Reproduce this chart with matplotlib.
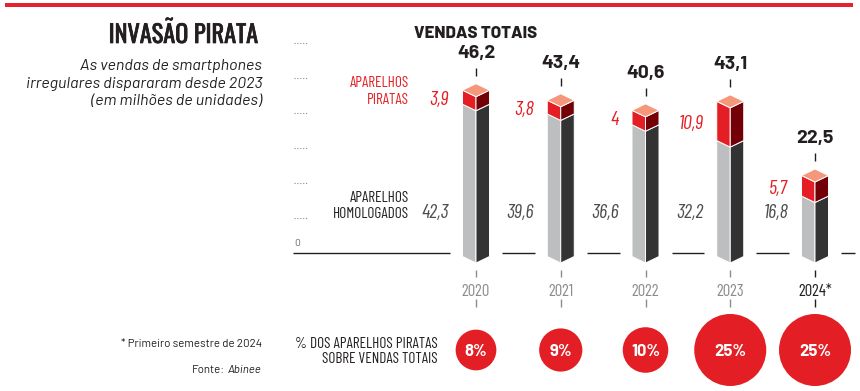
import matplotlib
matplotlib.use("Agg")
import numpy as np
import matplotlib.pyplot as plt
from matplotlib.patches import Polygon, Rectangle
from matplotlib import font_manager as fm
import matplotlib.patheffects as pe

# ---------------- data ----------------
years = ["2020", "2021", "2022", "2023", "2024*"]
homologados = [42.3, 39.6, 36.6, 32.2, 16.8]
piratas = [3.9, 3.8, 4.0, 10.9, 5.7]
totais = [46.2, 43.4, 40.6, 43.1, 22.5]
pct_piratas = [8, 9, 10, 25, 25]
homolog_labels = ["42,3", "39,6", "36,6", "32,2", "16,8"]
pirata_labels = ["3,9", "3,8", "4", "10,9", "5,7"]
total_labels = ["46,2", "43,4", "40,6", "43,1", "22,5"]
grid_values = [10, 20, 30, 40, 50, 60]

# ---------------- style ----------------
W, H = 860, 391
COND = ["Barlow Condensed", "DejaVu Sans"]
REG = ["Barlow", "DejaVu Sans"]
_names = {f.name for f in fm.fontManager.ttflist}
INK = "#231f20"
if "Oswald" in _names:
    TITLE = dict(family=["Oswald", "DejaVu Sans"], fontsize=17.5, fontweight="bold",
                 path_effects=[pe.withStroke(linewidth=0.5, foreground=INK)])
else:
    TITLE = dict(family=COND, fontsize=21, fontweight="bold")
RED = "#e31e24"
DARKRED = "#720006"
SALMON = "#f4977b"
LGRAY = "#bdbec0"
DGRAY = "#333333"

fig = plt.figure(figsize=(W / 100, H / 100), dpi=100)
fig.patch.set_facecolor("white")


def fx(x):
    return x / W


def fy(y):
    return 1 - y / H


# main data axes: x = category index, y = millions of units
CAT_PX = 84.75
X_FIRST = 476
UNIT_PX = 3.6
ZERO_PX = 263
ax = fig.add_axes([0, 0, 1, 1])
ax.set_xlim(-X_FIRST / CAT_PX, (W - X_FIRST) / CAT_PX)
ax.set_ylim((ZERO_PX - H) / UNIT_PX, ZERO_PX / UNIT_PX)
ax.axis("off")

# scale axes for the dotted ticks (0 on the floor line)
FLOOR_PX = 253
gax = fig.add_axes([0, 0, 1, 1], sharex=ax)
gax.set_ylim((FLOOR_PX - H) / 3.5, FLOOR_PX / 3.5)
gax.axis("off")
gax.patch.set_alpha(0)

xs = np.arange(len(years))
hw = 13.5 / CAT_PX          # half width of bar (data units)
dep = 6.5 / UNIT_PX         # perspective depth (data units)
gap = 26 / CAT_PX
floor_v = (ZERO_PX - FLOOR_PX) / UNIT_PX

# top red band
fig.patches.append(Rectangle((fx(5), fy(7)), fx(848), 4 / H, transform=fig.transFigure,
                             facecolor="#e52330", edgecolor="none"))

# floor line segments
left_end = (293 - X_FIRST) / CAT_PX
right_end = (855 - X_FIRST) / CAT_PX
seg_starts = [left_end] + [x + gap for x in xs]
seg_ends = [x - gap for x in xs] + [right_end]
ax.hlines([floor_v] * len(seg_starts), seg_starts, seg_ends, color=INK, lw=1.0)

# dotted scale ticks
tick_x0 = (294 - X_FIRST) / CAT_PX
tick_x1 = (307 - X_FIRST) / CAT_PX
gax.hlines(grid_values, tick_x0, tick_x1, color="#8a8a8a", lw=0.8, linestyles=(0, (1, 1.6)))
gax.text(tick_x0, 2.0, "0", fontsize=7.5, family=REG, color="#666666", ha="left", va="baseline")


def prism(ax, c, a, b, lc, rc):
    left = Polygon([(c - hw, a + dep), (c, a), (c, b), (c - hw, b + dep)], closed=True,
                   facecolor=lc, edgecolor="white", lw=0.7, zorder=3)
    right = Polygon([(c, a), (c + hw, a + dep), (c + hw, b + dep), (c, b)], closed=True,
                    facecolor=rc, edgecolor="white", lw=0.7, zorder=3)
    ax.add_patch(left)
    ax.add_patch(right)


for i, x in enumerate(xs):
    g = homologados[i]
    t = g + piratas[i]
    prism(ax, x, 0, g, LGRAY, DGRAY)
    prism(ax, x, g, t, RED, DARKRED)
    top = Polygon([(x, t), (x - hw, t + dep), (x, t + 2 * dep), (x + hw, t + dep)], closed=True,
                  facecolor=SALMON, edgecolor="white", lw=0.7, zorder=4)
    ax.add_patch(top)
    # total label + tick
    back = t + 2 * dep
    ax.vlines(x, back + 8 / UNIT_PX, back + 16 / UNIT_PX, color=INK, lw=1.0)
    ax.text(x, back + 7.1, total_labels[i], ha="center", va="baseline", fontsize=14,
            fontweight="bold", family=REG, color=INK)
    # pirate value
    lx = x - 27 / CAT_PX
    ax.text(lx, g + piratas[i] / 2 - 0.4, pirata_labels[i], ha="right", va="baseline",
            fontsize=14.5, style="italic", family=COND, color=RED)
    # homologated value
    ax.text(lx, (ZERO_PX - 217.5) / UNIT_PX, homolog_labels[i], ha="right", va="baseline",
            fontsize=14.5, style="italic", family=COND, color="#4d4d4d")
    # year label and ticks
    last = i == len(xs) - 1
    ycol = INK if last else "#8c8c8c"
    ax.vlines(x, (ZERO_PX - 277) / UNIT_PX, (ZERO_PX - 270) / UNIT_PX, color=ycol, lw=1.0)
    ax.vlines(x, (ZERO_PX - 307) / UNIT_PX, (ZERO_PX - 299) / UNIT_PX, color=ycol, lw=1.0)
    ax.text(x, (ZERO_PX - 295.5) / UNIT_PX, years[i], ha="center", va="baseline", fontsize=12,
            family=COND, fontweight="normal", color=ycol)

# percentage bubbles (area proportional to share)
circ_v = (ZERO_PX - 350) / UNIT_PX
r_px = 7.2 * np.sqrt(np.array(pct_piratas, dtype=float))
sizes = (2 * r_px * 72 / 100) ** 2
ax.scatter(xs, [circ_v] * len(xs), s=sizes, color=RED, edgecolors="none", zorder=5)
for i, x in enumerate(xs):
    ax.text(x, (ZERO_PX - 356) / UNIT_PX, f"{pct_piratas[i]}%", ha="center", va="baseline",
            fontsize=12, fontweight="bold", family=REG, color="white", zorder=6)

# ---------------- texts ----------------
fig.text(fx(258), fy(43), "INVASÃO PIRATA", ha="right", va="baseline", color=INK, **TITLE)
for yb, line in zip([70, 88, 105], ["As vendas de smartphones",
                                    "irregulares dispararam desde 2023",
                                    "(em milhões de unidades)"]):
    fig.text(fx(262), fy(yb), line, ha="right", va="baseline", fontsize=11.6,
             style="italic", family=REG, color=INK)

fig.text(fx(476), fy(38), "VENDAS TOTAIS", ha="center", va="baseline", fontsize=12,
         fontweight="heavy", family=REG, color=INK)

fig.text(fx(409), fy(87), "APARELHOS", ha="right", va="baseline", fontsize=11, family=COND, color=RED)
fig.text(fx(409), fy(104), "PIRATAS", ha="right", va="baseline", fontsize=11, family=COND, color=RED)
fig.text(fx(409), fy(202), "APARELHOS", ha="right", va="baseline", fontsize=11, family=COND, color=INK)
fig.text(fx(409), fy(218), "HOMOLOGADOS", ha="right", va="baseline", fontsize=11, family=COND, color=INK)

fig.text(fx(438), fy(348), "% DOS APARELHOS PIRATAS", ha="right", va="baseline", fontsize=11,
         family=COND, color=INK)
fig.text(fx(438), fy(363), "SOBRE VENDAS TOTAIS", ha="right", va="baseline", fontsize=11,
         family=COND, color=INK)

fig.text(fx(262), fy(347), "* Primeiro semestre de 2024", ha="right", va="baseline", fontsize=8.3,
         family=REG, color=INK)
src = fig.text(fx(262), fy(373), "Abinee", ha="right", va="baseline", fontsize=8.3,
               style="italic", family=REG, color=INK)
renderer = fig.canvas.get_renderer()
bb = src.get_window_extent(renderer)
fig.text((bb.x0 - 3) / W, fy(373), "Fonte:", ha="right", va="baseline", fontsize=8.3,
         family=REG, color=INK)

fig.savefig("out.png", dpi=100, facecolor="white")
